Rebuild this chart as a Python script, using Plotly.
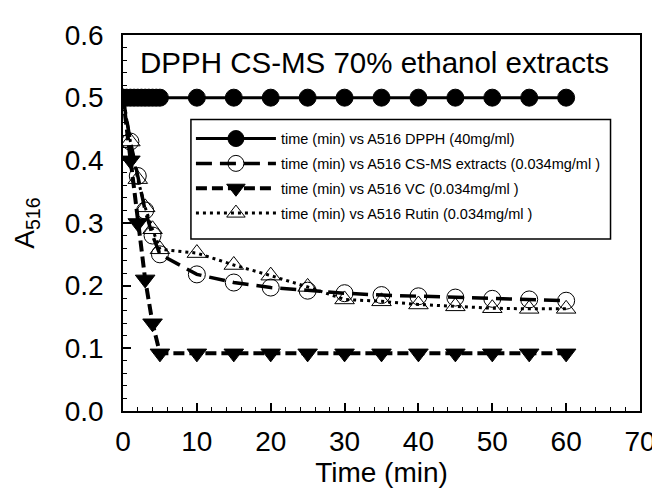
import plotly.graph_objects as go

# ---- data ----
dpph_time = [0, 0.5, 1, 1.5, 2, 2.5, 3, 3.5, 4, 4.5, 5, 10, 15, 20, 25, 30, 35, 40, 45, 50, 55, 60]
dpph_a516 = [0.5, 0.5, 0.5, 0.5, 0.5, 0.5, 0.5, 0.5, 0.5, 0.5, 0.5, 0.5, 0.5, 0.5, 0.5, 0.5, 0.5, 0.5, 0.5, 0.5, 0.5, 0.5]

time_min = [0, 1, 2, 3, 4, 5, 10, 15, 20, 25, 30, 35, 40, 45, 50, 55, 60]
csms_a516 = [0.5, 0.43, 0.375, 0.32, 0.28, 0.25, 0.218, 0.205, 0.197, 0.192, 0.188, 0.185, 0.183, 0.181, 0.179, 0.178, 0.176]
vc_a516 = [0.5, 0.40, 0.30, 0.21, 0.14, 0.092, 0.092, 0.092, 0.092, 0.092, 0.092, 0.092, 0.092, 0.092, 0.092, 0.092, 0.092]
rutin_a516 = [0.5, 0.43, 0.37, 0.325, 0.29, 0.258, 0.252, 0.233, 0.216, 0.198, 0.178, 0.175, 0.170, 0.167, 0.164, 0.163, 0.163]

names = [
    "time (min) vs A516 DPPH (40mg/ml)",
    "time (min) vs A516 CS-MS extracts (0.034mg/ml )",
    "time (min) vs A516 VC (0.034mg/ml )",
    "time (min) vs A516 Rutin (0.034mg/ml )",
]
title_text = "DPPH CS-MS 70% ethanol extracts"
x_ticks = [0, 10, 20, 30, 40, 50, 60, 70]
y_ticks = [0.0, 0.1, 0.2, 0.3, 0.4, 0.5, 0.6]

FONT = "Liberation Sans, Arial, sans-serif"

fig = go.Figure()
fig.add_trace(go.Scatter(
    x=dpph_time, y=dpph_a516, name=names[0], legendgroup="g1", mode="lines+markers",
    line=dict(color="black", width=3),
    marker=dict(symbol="circle", size=17, color="black", line=dict(color="black", width=1)),
))
fig.add_trace(go.Scatter(
    x=time_min, y=csms_a516, name=names[1], legendgroup="g2", mode="lines+markers",
    line=dict(color="black", width=3.5, dash="16px,8px"),
    marker=dict(symbol="circle-open", size=17, color="black", line=dict(color="black", width=1)),
))
fig.add_trace(go.Scatter(
    x=time_min, y=vc_a516, name=names[2], legendgroup="g3", mode="lines+markers",
    line=dict(color="black", width=4, dash="11px,5px"),
    marker=dict(symbol="triangle-down", size=17, color="black", line=dict(color="black", width=1)),
))
fig.add_trace(go.Scatter(
    x=time_min, y=rutin_a516, name=names[3], legendgroup="g4", mode="lines+markers",
    line=dict(color="black", width=3, dash="3px,4px"),
    marker=dict(symbol="triangle-up-open", size=17, color="black", line=dict(color="black", width=1)),
))

fig.add_annotation(
    text=title_text, xref="paper", yref="paper", x=0.486, y=0.927,
    xanchor="center", yanchor="middle", showarrow=False,
    font=dict(family=FONT, size=29.5, color="black"),
)

# legend frame
fig.add_shape(
    type="rect", xref="paper", yref="paper", x0=0.1314, x1=0.943, y0=0.4577, y1=0.775,
    line=dict(color="black", width=1.5), fillcolor="white", layer="above",
)

fig.update_layout(
    width=660, height=496,
    margin=dict(l=115, r=20, t=25, b=93),
    paper_bgcolor="white", plot_bgcolor="white",
    font=dict(family=FONT, color="black"),
    showlegend=True,
    legend=dict(
        x=0.1314, y=0.767, xanchor="left", yanchor="top",
        bgcolor="rgba(0,0,0,0)", borderwidth=0,
        font=dict(family=FONT, size=14.5, color="black"),
        itemwidth=80, tracegroupgap=3, traceorder="grouped",
    ),
    xaxis=dict(
        range=[0, 70], tickvals=x_ticks, ticks="inside", ticklen=8, tickwidth=1.5,
        tickcolor="black", showline=True, linecolor="black", linewidth=1.5,
        mirror=True, showgrid=False, zeroline=False,
        minor=dict(dtick=2, ticks="inside", ticklen=4, tickwidth=1, tickcolor="black", showgrid=False),
        tickfont=dict(family=FONT, size=28, color="black"),
        ticklabelstandoff=5,
        title=dict(text="Time (min)", font=dict(family=FONT, size=28, color="black"), standoff=5),
    ),
    xaxis2=dict(
        range=[0, 70], overlaying="x", side="top", matches="x", tickvals=x_ticks,
        ticks="inside", ticklen=8, tickwidth=1.5, tickcolor="black",
        showticklabels=False, showgrid=False, zeroline=False, showline=False,
    ),
    yaxis=dict(
        range=[0, 0.6], tickvals=y_ticks, tickformat=".1f", ticks="inside", ticklen=8,
        tickwidth=1.5, tickcolor="black", showline=True, linecolor="black", linewidth=1.5,
        mirror=True, showgrid=False, zeroline=False,
        minor=dict(dtick=0.02, ticks="inside", ticklen=4, tickwidth=1, tickcolor="black", showgrid=False),
        tickfont=dict(family=FONT, size=28, color="black"),
        ticklabelstandoff=12,
        title=dict(text="A<sub>516</sub>", font=dict(family=FONT, size=28, color="black"), standoff=22),
    ),
)

fig.write_html("out.html")
